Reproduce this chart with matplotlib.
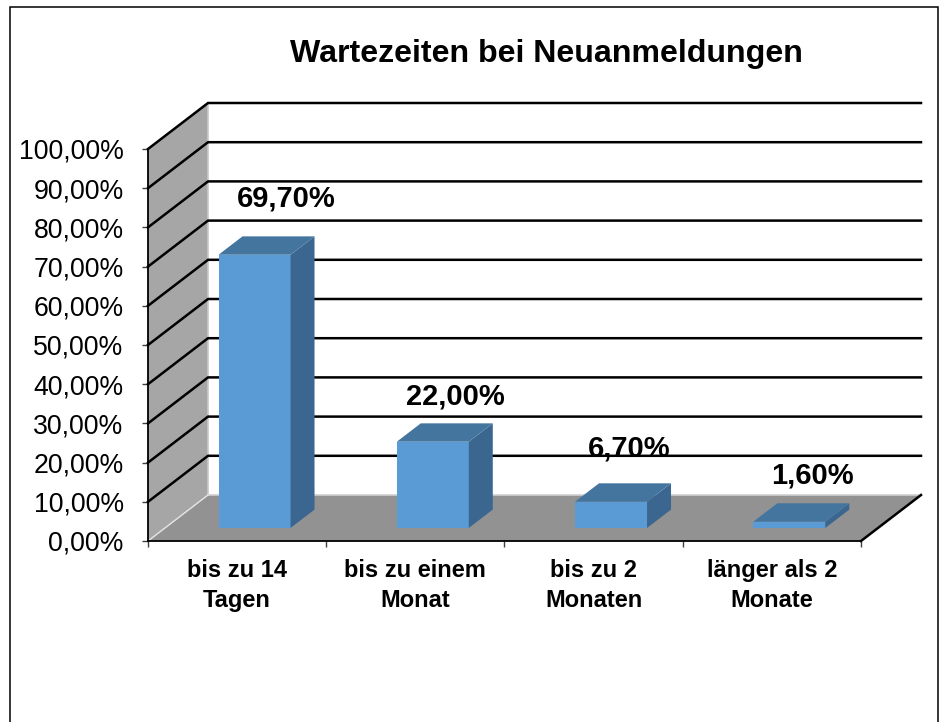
import matplotlib
matplotlib.use("Agg")
import matplotlib.pyplot as plt
from matplotlib.patches import Polygon, Rectangle

plt.rcParams["font.family"] = ["Liberation Sans", "DejaVu Sans"]

categories = ["bis zu 14\nTagen", "bis zu einem\nMonat", "bis zu 2\nMonaten", "länger als 2\nMonate"]
values = [69.7, 22.0, 6.7, 1.6]
value_labels = ["69,70%", "22,00%", "6,70%", "1,60%"]
y_ticks = [0, 10, 20, 30, 40, 50, 60, 70, 80, 90, 100]
y_tick_labels = ["%d,00%%" % t if t else "0,00%" for t in y_ticks]
# Verschiebung der Beschriftungen gegen die Balkenmitte (Pixel)
label_dx = [32, 23, 18, 23]
label_dy = [56, 45, 53, 46]

W, H = 945, 722
fig = plt.figure(figsize=(W / 100, H / 100), dpi=100)
ax = fig.add_axes([148 / W, 1 - 541 / H, (861 - 148) / W, (541 - 149) / H])
ax.set_xlim(0, 4)
ax.set_ylim(0, 100)

# schraege Tiefe in Achseneinheiten
px_x = 178.25
px_y = 3.92
depth_x = 60 / px_x
depth_y = 46 / px_y


def shift(x, y, d):
    return (x + depth_x * d, y + depth_y * d)


def poly(points, color, z=2):
    ax.add_patch(Polygon(points, closed=True, facecolor=color, edgecolor="none",
                         linewidth=0, zorder=z, clip_on=False))


# Wand und Boden
poly([(0, 0), (0, 100), shift(0, 100, 1), shift(0, 0, 1)], "#a6a6a6", 1)
poly([(0, 0), (4, 0), shift(4, 0, 1), shift(0, 0, 1)], "#929292", 1)
ax.plot([0, depth_x], [0, depth_y], color="#e6e6e6", lw=1, zorder=1.5, clip_on=False)
ax.plot([depth_x, 4 + depth_x], [depth_y, depth_y], color="#d0d0d0", lw=1.2, zorder=1.2, clip_on=False)
ax.plot([depth_x, depth_x], [depth_y, 100 + depth_y], color="#c8c8c8", lw=1.2, zorder=1.2, clip_on=False)

# Gitterlinien
for t in y_ticks[1:]:
    ax.plot([0, depth_x, 4 + depth_x], [t, t + depth_y, t + depth_y], color="black", lw=1.8,
            zorder=1.6, clip_on=False, solid_joinstyle="miter")
ax.plot([4, 4 + depth_x], [0, depth_y], color="black", lw=1.8, zorder=1.6, clip_on=False)

# Balken
bar_w = 72 / px_x
for i, v in enumerate(values):
    x0 = i + 0.5 - bar_w / 2 + 0.29 * depth_x
    x1 = x0 + bar_w
    y0 = 0.283 * depth_y
    y1 = y0 + v
    d = 0.4
    poly([(x0, y0), (x1, y0), (x1, y1), (x0, y1)], "#5b9bd5", 3)
    poly([(x1, y0), shift(x1, y0, d), shift(x1, y1, d), (x1, y1)], "#3b668f", 3)
    poly([(x0, y1), (x1, y1), shift(x1, y1, d), shift(x0, y1, d)], "#44759f", 3)
    ax.text((x0 + x1) / 2 + label_dx[i] / px_x, y1 + label_dy[i] / px_y, value_labels[i],
            ha="center", va="center", fontsize=21, fontweight="bold", zorder=5)

for s in ["top", "right"]:
    ax.spines[s].set_visible(False)
for s in ["left", "bottom"]:
    ax.spines[s].set_linewidth(1.3)
    ax.spines[s].set_zorder(4)
ax.patch.set_visible(False)

ax.set_yticks(y_ticks)
ax.set_yticklabels(y_tick_labels, fontsize=19.2)
ax.set_xticks([0, 1, 2, 3, 4])
ax.set_xticklabels([])
ax.set_xticks([0.5, 1.5, 2.5, 3.5], minor=True)
ax.set_xticklabels(categories, minor=True, fontsize=17, fontweight="bold", linespacing=1.36)
ax.tick_params(axis="x", which="minor", length=0, pad=13)
ax.tick_params(axis="both", which="major", length=4, width=1, color="#404040")
ax.tick_params(axis="y", pad=13.5)

fig.text(546 / W, 1 - 54 / H, "Wartezeiten bei Neuanmeldungen", ha="center", va="center",
         fontsize=23.1, fontweight="bold")

# Rahmen, unten offen
fig.add_artist(Rectangle((10 / W, -0.05), (938 - 10) / W, 0.05 + 1 - 7 / H, transform=fig.transFigure,
                         facecolor="none", edgecolor="black", linewidth=1.1))

fig.savefig("out.png", dpi=100)
